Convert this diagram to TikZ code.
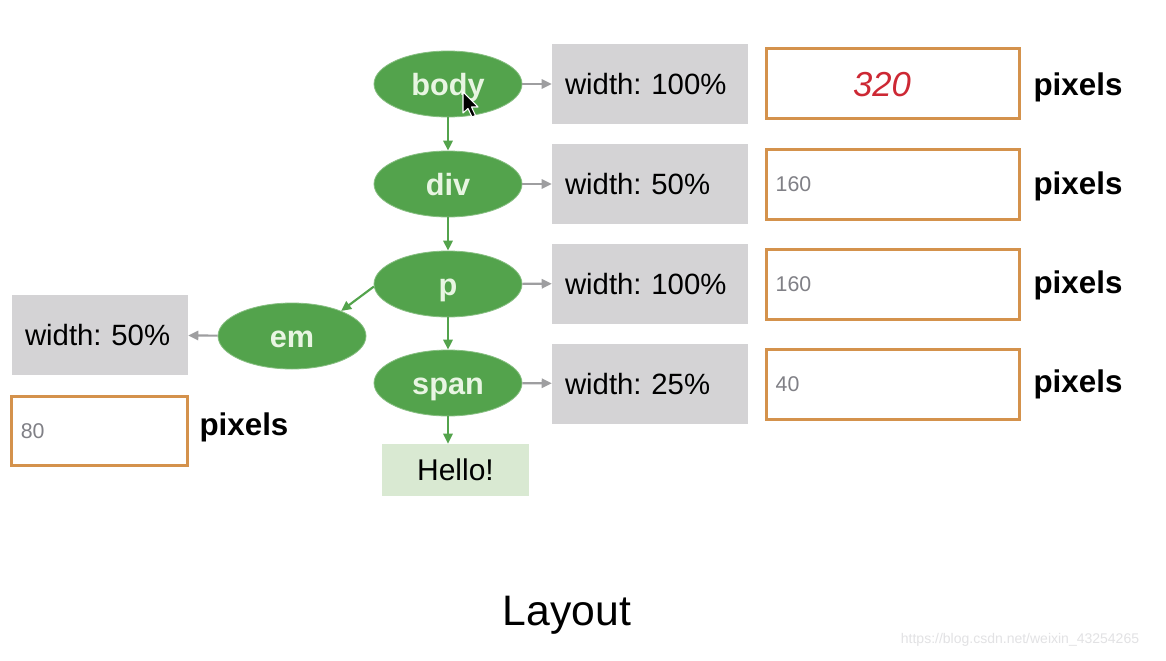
\documentclass[tikz,border=0pt]{standalone}
\usepackage{fontspec}
\setmainfont{Liberation Sans}
\usetikzlibrary{arrows.meta,shapes.geometric}
\definecolor{nodegreen}{RGB}{83,163,76}
\definecolor{nodetext}{RGB}{232,245,226}
\definecolor{boxgray}{RGB}{212,211,213}
\definecolor{arrowgray}{RGB}{158,158,160}
\definecolor{boxorange}{RGB}{212,146,76}
\definecolor{hellogreen}{RGB}{217,233,210}
\definecolor{numgray}{RGB}{128,128,134}
\definecolor{hand}{RGB}{205,40,52}
\definecolor{wmark}{RGB}{226,226,228}
\frenchspacing
\begin{document}
\begin{tikzpicture}[x=0.75pt,y=-0.75pt,
  elem/.style={ellipse, fill=nodegreen, draw=nodegreen!70!white, line width=0.6pt,
    minimum width=111pt, minimum height=49.5pt, inner sep=0pt, text=nodetext,
    font=\fontsize{23}{23}\selectfont\bfseries, text height=16.5pt, text depth=0pt},
  widthbox/.style={fill=boxgray, minimum height=60pt, inner xsep=9.75pt, inner ysep=0pt,
    align=left, font=\fontsize{22}{22}\selectfont, text height=15.75pt, text depth=0pt},
  pxbox/.style={draw=boxorange, line width=2.25pt, fill=white, minimum height=52.5pt,
    inner xsep=7pt, inner ysep=0pt, align=left, text=numgray,
    font=\fontsize{16}{16}\selectfont, text height=11.5pt, text depth=0pt},
  pxlabel/.style={font=\fontsize{23.5}{23.5}\selectfont\bfseries, inner sep=0pt,
    text height=16.8pt, text depth=0pt},
  treearrow/.style={nodegreen, line width=1.6pt, -{Triangle[length=7.5pt,width=7pt]}},
  proparrow/.style={arrowgray, line width=1.6pt, -{Triangle[length=7.5pt,width=7pt]}}
]
\path[use as bounding box, fill=white] (0,0) rectangle (1166,660);

% element tree
\node[elem] (body) at (448,84) {body};
\node[elem] (div)  at (448,184) {div};
\node[elem] (p)    at (448,284) {p};
\node[elem] (span) at (448,383) {span};
\node[elem] (em)   at (292,336) {em};
\node[fill=hellogreen, minimum width=110.25pt, minimum height=39pt, inner sep=0pt,
  font=\fontsize{22.5}{22.5}\selectfont, text height=16.1pt, text depth=0pt] (hello) at (455.5,470) {Hello!};

% width boxes
\node[widthbox, text width=127.5pt] (wbody) at (650,84)    {width: 100\%};
\node[widthbox, text width=127.5pt] (wdiv)  at (650,184)   {width: 50\%};
\node[widthbox, text width=127.5pt] (wp)    at (650,283.5) {width: 100\%};
\node[widthbox, text width=127.5pt] (wspan) at (650,383.5) {width: 25\%};
\node[widthbox, text width=112.5pt] (wem)   at (100,335)   {width: 50\%};

% pixel boxes
\node[pxbox, text width=176pt] (pxbody) at (893,83.5) {};
\node[text=hand, font=\fontsize{26}{26}\selectfont\itshape, text height=18.6pt, text depth=0pt] (hand320) at (882,84) {320};
\node[pxbox, text width=176pt] (pxdiv)  at (893,184) {160};
\node[pxbox, text width=176pt] (pxp)    at (893,284) {160};
\node[pxbox, text width=176pt] (pxspan) at (893,384) {40};
\node[pxbox, text width=118pt, minimum height=52pt] (pxem) at (99.5,431) {80};

\node[pxlabel] (lbody) at (1078,84)  {pixels};
\node[pxlabel] (ldiv)  at (1078,183) {pixels};
\node[pxlabel] (lp)    at (1078,282) {pixels};
\node[pxlabel] (lspan) at (1078,381) {pixels};
\node[pxlabel] (lem)   at (244,424)  {pixels};

% tree connectors
\draw[treearrow] (body) -- (div);
\draw[treearrow] (div) -- (p);
\draw[treearrow] (p) -- (span);
\draw[treearrow] (span) -- (span |- hello.north);
\draw[treearrow] (p.182) -- (em.27);

% property connectors
\draw[proparrow] (body) -- (wbody);
\draw[proparrow] (div) -- (wdiv);
\draw[proparrow] (p) -- (wp);
\draw[proparrow] (span) -- (wspan);
\draw[proparrow] (em) -- (wem);

% mouse cursor
\filldraw[fill=black, draw=white, line width=0.8pt, line join=round]
  (463,92) -- (463,113) -- (468,108.5) -- (472,117) -- (475.5,115.5) -- (471.5,107) -- (478,107) -- cycle;

% caption and watermark
\node[font=\fontsize{32}{32}\selectfont, text height=22.9pt, text depth=0pt] (caption) at (567,610) {Layout};
\node[text=wmark, font=\fontsize{10.5}{10.5}\selectfont] (wm) at (1020,640) {https://blog.csdn.net/weixin\_43254265};
\end{tikzpicture}
\end{document}
